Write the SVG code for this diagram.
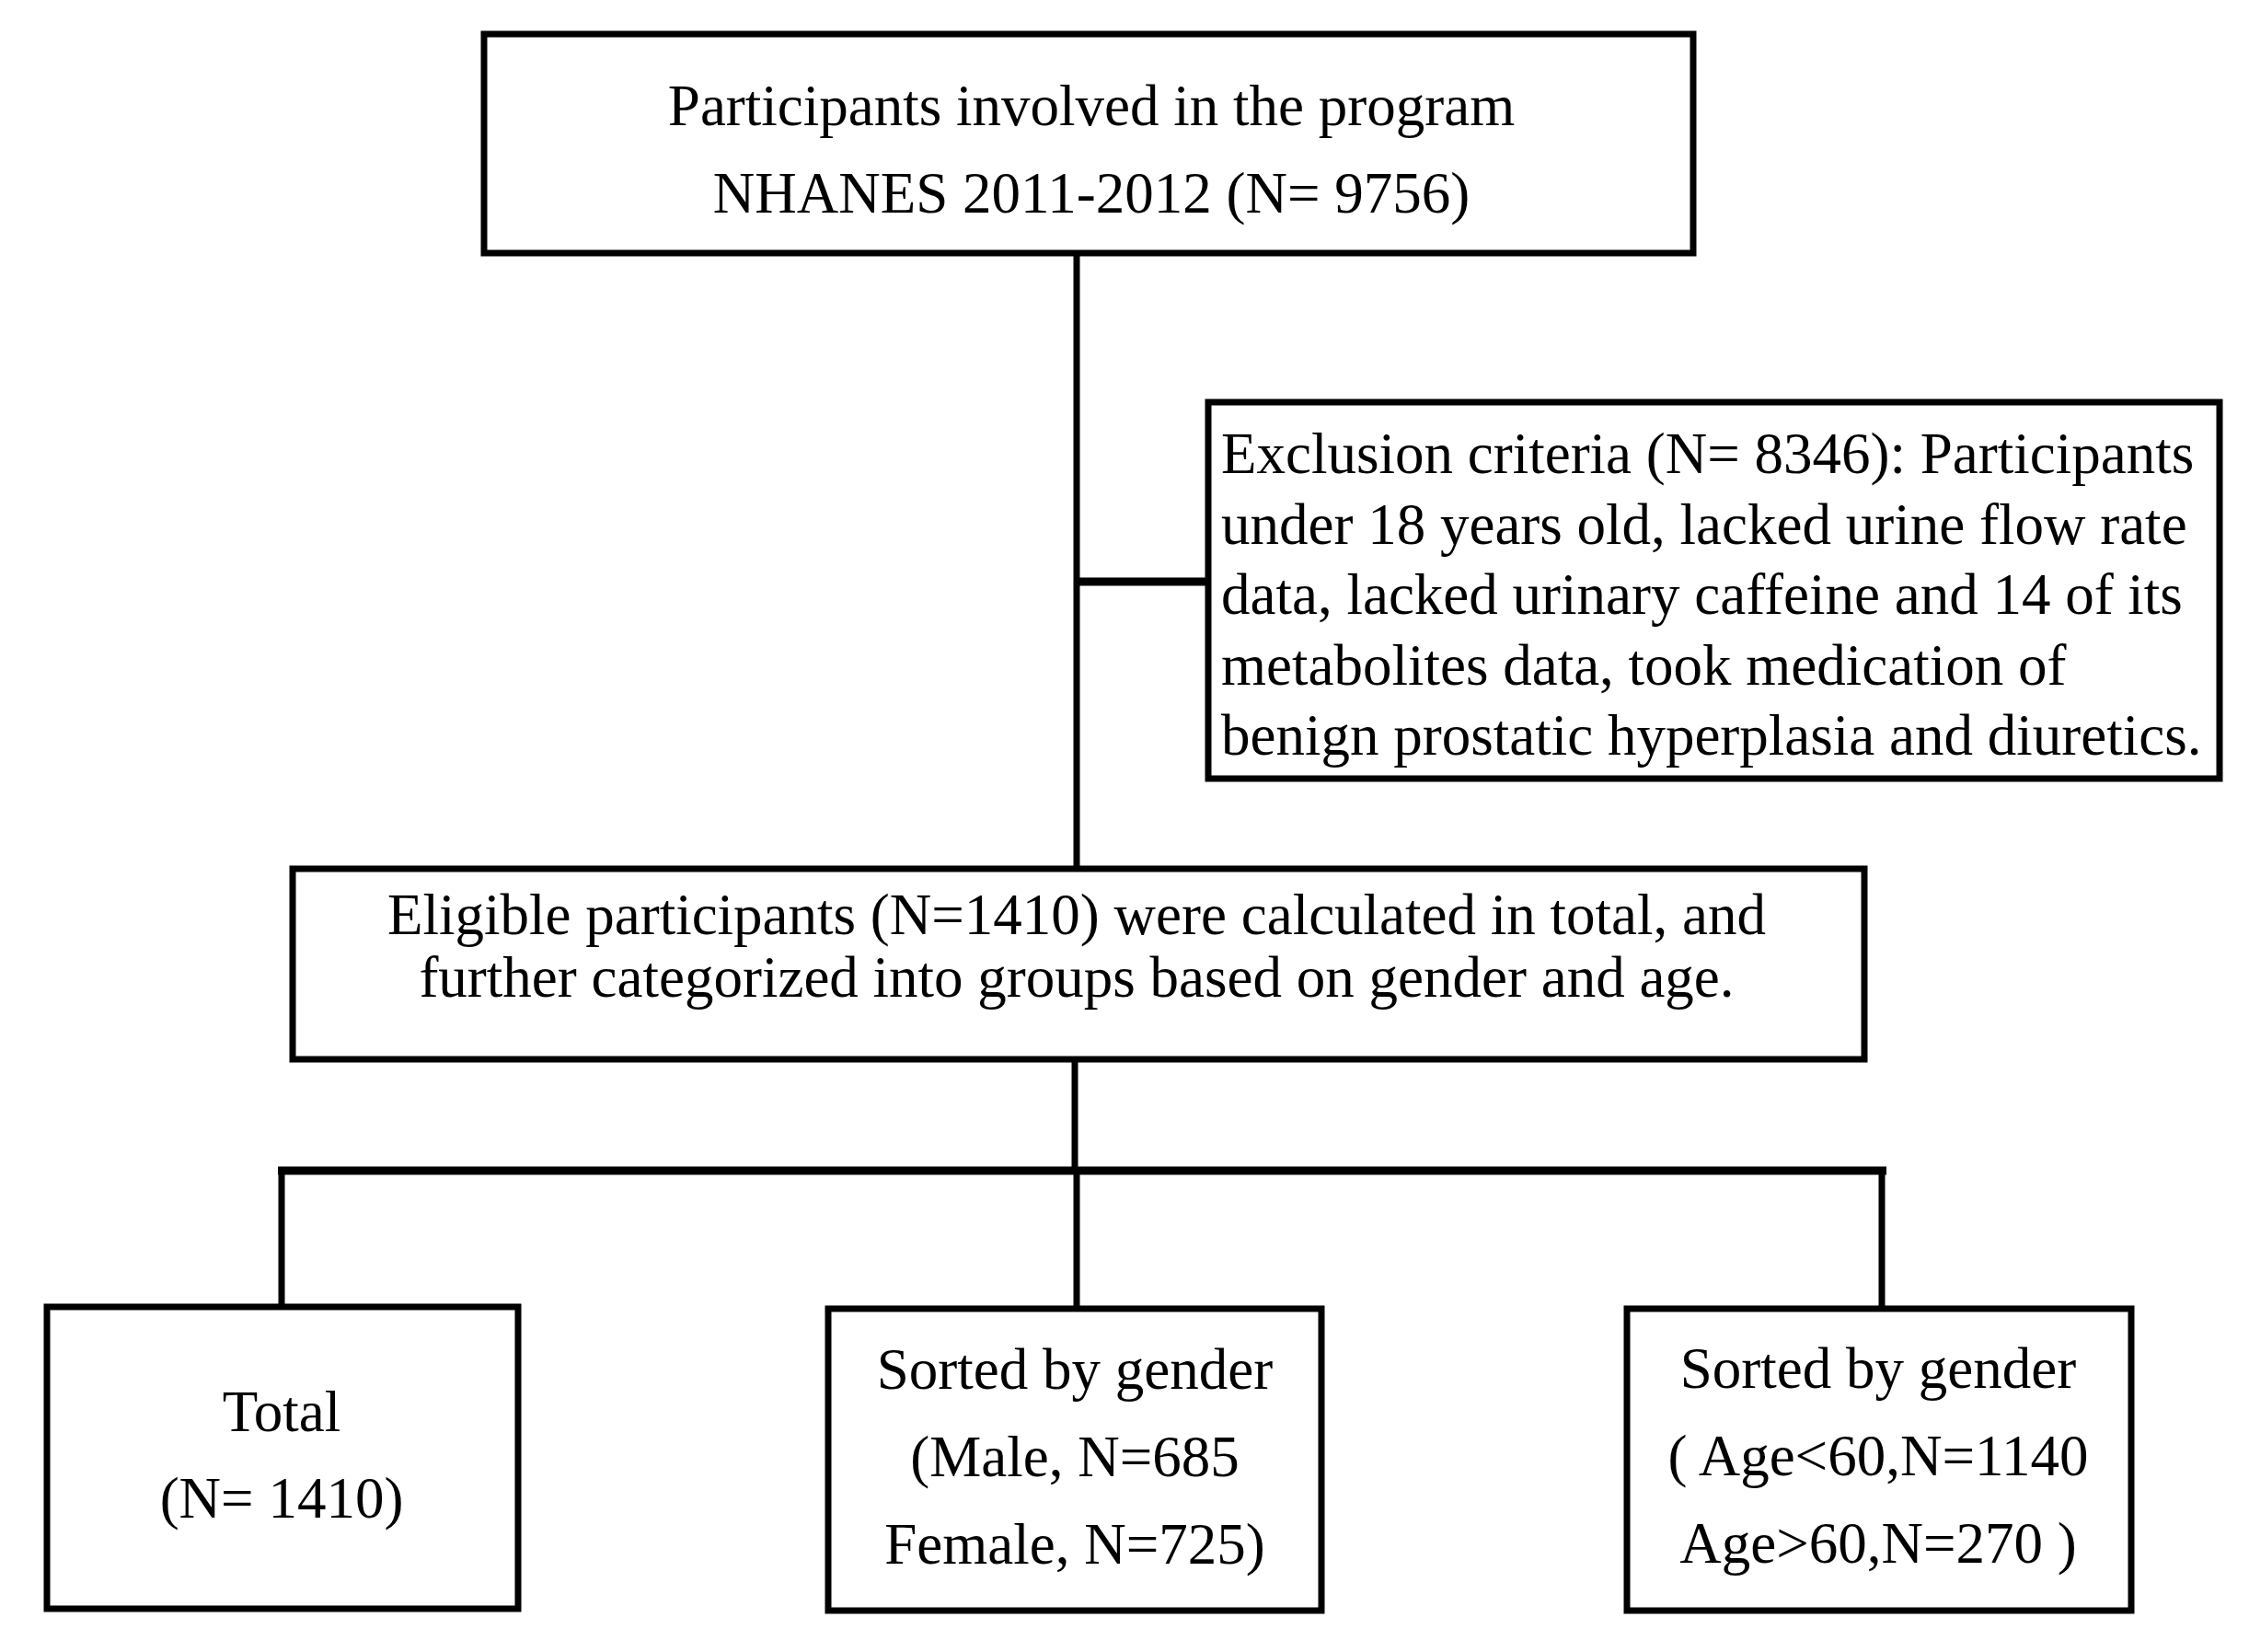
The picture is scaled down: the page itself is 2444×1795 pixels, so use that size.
<svg xmlns="http://www.w3.org/2000/svg" width="2444" height="1795" viewBox="0 0 2444 1795">
<style>
.box{fill:#fff;stroke:#000;stroke-width:7}
.t{font-family:"Liberation Serif","Times New Roman",serif;font-size:63px;fill:#000}
.c{text-anchor:middle}
.ln{stroke:#000;fill:none;stroke-width:7}
</style>
<rect width="2444" height="1795" fill="#fff"/>
<g id="connectors">
<line class="ln" x1="1170" y1="277" x2="1170" y2="943"/>
<line class="ln" x1="1170" y1="632" x2="1313" y2="632" style="stroke-width:9"/>
<line class="ln" x1="1168" y1="1151" x2="1168" y2="1272"/>
<line class="ln" x1="302" y1="1272" x2="2050" y2="1272" style="stroke-width:9"/>
<line class="ln" x1="306" y1="1272" x2="306" y2="1420"/>
<line class="ln" x1="1170" y1="1272" x2="1170" y2="1428"/>
<line class="ln" x1="2045" y1="1272" x2="2045" y2="1422"/>
</g>
<g id="n-top">
<rect class="box" x="526" y="37" width="1314" height="238"/>
<text class="t c" x="1186" y="136">Participants involved in the program</text>
<text class="t c" x="1186" y="231">NHANES 2011-2012 (N= 9756)</text>
</g>
<g id="n-exclusion">
<rect class="box" x="1313" y="437" width="1099" height="409"/>
<text class="t" x="1327" y="514">Exclusion criteria (N= 8346): Participants</text>
<text class="t" x="1327" y="591">under 18 years old, lacked urine flow rate</text>
<text class="t" x="1327" y="667">data, lacked urinary caffeine and 14 of its</text>
<text class="t" x="1327" y="744">metabolites data, took medication of</text>
<text class="t" x="1327" y="820">benign prostatic hyperplasia and diuretics.</text>
</g>
<g id="n-eligible">
<rect class="box" x="318" y="944" width="1708" height="207"/>
<text class="t c" x="1170" y="1015">Eligible participants (N=1410) were calculated in total, and</text>
<text class="t c" x="1170" y="1083">further categorized into groups based on gender and age.</text>
</g>
<g id="n-total">
<rect class="box" x="51" y="1420" width="512" height="328"/>
<text class="t c" x="306" y="1555">Total</text>
<text class="t c" x="306" y="1649">(N= 1410)</text>
</g>
<g id="n-gender">
<rect class="box" x="900" y="1422" width="536" height="328"/>
<text class="t c" x="1168" y="1509">Sorted by gender</text>
<text class="t c" x="1168" y="1604">(Male, N=685</text>
<text class="t c" x="1168" y="1699">Female, N=725)</text>
</g>
<g id="n-age">
<rect class="box" x="1768" y="1422" width="548" height="328"/>
<text class="t c" x="2041" y="1508">Sorted by gender</text>
<text class="t c" x="2041" y="1603">( Age&lt;60,N=1140</text>
<text class="t c" x="2041" y="1698">Age&gt;60,N=270 )</text>
</g>
</svg>
